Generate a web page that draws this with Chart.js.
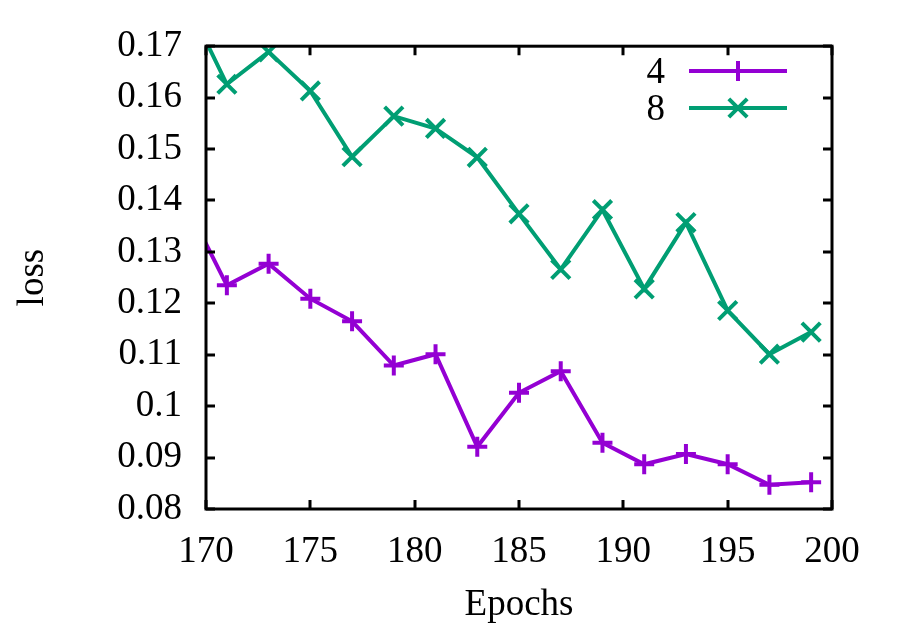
<!DOCTYPE html>
<html>
<head>
<meta charset="utf-8">
<script src="https://cdn.jsdelivr.net/npm/chart.js@4.4.1/dist/chart.umd.min.js"></script>
<style>
  html, body { margin: 0; padding: 0; background: #ffffff; }
  #wrap { width: 900px; height: 630px; }
</style>
</head>
<body>
<div id="wrap"><canvas id="c" width="900" height="630"></canvas></div>
<script>
// ---- data ----
const epochs = [169, 171, 173, 175, 177, 179, 181, 183, 185, 187, 189, 191, 193, 195, 197, 199];
const loss4  = [0.1397, 0.1235, 0.1277, 0.1209, 0.1165, 0.1079, 0.1101, 0.0921, 0.1026, 0.1068, 0.0929, 0.0887, 0.0907, 0.0887, 0.0847, 0.0852];
const loss8  = [0.1793, 0.1626, 0.1689, 0.1613, 0.1485, 0.1564, 0.1540, 0.1484, 0.1374, 0.1266, 0.1382, 0.1228, 0.1357, 0.1186, 0.1101, 0.1144];
const seriesLabels = ["4", "8"];
const xTickMin = 170, xTickMax = 200, xTickStep = 5;
const yTickMin = 0.08, yTickMax = 0.17, yTickStep = 0.01;
const xTitle = "Epochs";
const yTitle = "loss";

const FONT = "'Liberation Serif', 'DejaVu Serif', serif";
const FSIZE = 37;
const PURPLE = "#9400D3";
const GREEN = "#009E73";

function toPoints(xs, ys) { return xs.map((x, i) => ({ x: x, y: ys[i] })); }

// inward mirrored ticks + frame (gnuplot style)
const framePlugin = {
  id: 'frame',
  afterDatasetsDraw(chart) {
    const { ctx, chartArea: a, scales } = chart;
    ctx.save();
    ctx.strokeStyle = '#000';
    ctx.lineWidth = 3;
    const tl = 9;
    ctx.beginPath();
    scales.x.ticks.forEach(t => {
      const px = Math.round(scales.x.getPixelForValue(t.value));
      ctx.moveTo(px, a.bottom); ctx.lineTo(px, a.bottom - tl);
      ctx.moveTo(px, a.top); ctx.lineTo(px, a.top + tl);
    });
    scales.y.ticks.forEach(t => {
      const py = Math.round(scales.y.getPixelForValue(t.value));
      ctx.moveTo(a.left, py); ctx.lineTo(a.left + tl, py);
      ctx.moveTo(a.right, py); ctx.lineTo(a.right - tl, py);
    });
    ctx.stroke();
    ctx.strokeRect(a.left, a.top, a.right - a.left, a.bottom - a.top);
    ctx.restore();
  }
};

// gnuplot-like key: right-aligned label, then line sample with marker
const keyPlugin = {
  id: 'gkey',
  afterDraw(chart) {
    const { ctx } = chart;
    const textRight = 665, lineX0 = 689, lineX1 = 787, rowY0 = 71, rowH = 37;
    ctx.save();
    chart.data.datasets.forEach((ds, i) => {
      const y = rowY0 + i * rowH;
      ctx.font = FSIZE + "px " + FONT;
      ctx.fillStyle = '#000';
      ctx.textAlign = 'right';
      ctx.textBaseline = 'middle';
      ctx.fillText(ds.label, textRight, y + 2);
      ctx.strokeStyle = ds.borderColor;
      ctx.lineWidth = ds.borderWidth;
      ctx.beginPath();
      ctx.moveTo(lineX0, y); ctx.lineTo(lineX1, y);
      ctx.stroke();
      const cx = (lineX0 + lineX1) / 2, r = ds.pointRadius;
      ctx.beginPath();
      if (ds.pointStyle === 'cross') {
        ctx.moveTo(cx - r, y); ctx.lineTo(cx + r, y);
        ctx.moveTo(cx, y - r); ctx.lineTo(cx, y + r);
      } else {
        const d = r * Math.SQRT1_2;
        ctx.moveTo(cx - d, y - d); ctx.lineTo(cx + d, y + d);
        ctx.moveTo(cx - d, y + d); ctx.lineTo(cx + d, y - d);
      }
      ctx.stroke();
    });
    ctx.restore();
  }
};

new Chart(document.getElementById('c'), {
  type: 'line',
  data: {
    datasets: [
      {
        label: seriesLabels[0],
        data: toPoints(epochs, loss4),
        borderColor: PURPLE, backgroundColor: PURPLE,
        borderWidth: 4, pointStyle: 'cross', pointRadius: 10,
        pointBorderWidth: 4, pointHoverRadius: 10, tension: 0, fill: false
      },
      {
        label: seriesLabels[1],
        data: toPoints(epochs, loss8),
        borderColor: GREEN, backgroundColor: GREEN,
        borderWidth: 4, pointStyle: 'crossRot', pointRadius: 13,
        pointBorderWidth: 4, pointHoverRadius: 13, tension: 0, fill: false
      }
    ]
  },
  options: {
    responsive: false,
    animation: false,
    devicePixelRatio: 1,
    layout: { padding: { top: 45, right: 68, left: 0, bottom: 0 } },
    plugins: { legend: { display: false }, tooltip: { enabled: false } },
    scales: {
      x: {
        type: 'linear', min: xTickMin, max: xTickMax,
        grid: { display: false, drawTicks: false },
        border: { display: false },
        ticks: {
          stepSize: xTickStep, color: '#000', padding: 21,
          font: { family: FONT, size: FSIZE }, maxRotation: 0,
          callback: v => String(v)
        },
        title: {
          display: true, text: xTitle, color: '#000',
          font: { family: FONT, size: FSIZE }, padding: { top: 0, bottom: 3 }
        },
        afterFit: s => { s.height = 121; }
      },
      y: {
        type: 'linear', min: yTickMin, max: yTickMax,
        grid: { display: false, drawTicks: false },
        border: { display: false },
        ticks: {
          stepSize: yTickStep, color: '#000', padding: 24,
          font: { family: FONT, size: FSIZE },
          callback: v => String(Number(v.toFixed(2)))
        },
        title: {
          display: true, text: yTitle, color: '#000',
          font: { family: FONT, size: FSIZE }, padding: { top: 11, bottom: 0 }
        },
        afterFit: s => { s.width = 206; }
      }
    }
  },
  plugins: [framePlugin, keyPlugin]
});
</script>
</body>
</html>
